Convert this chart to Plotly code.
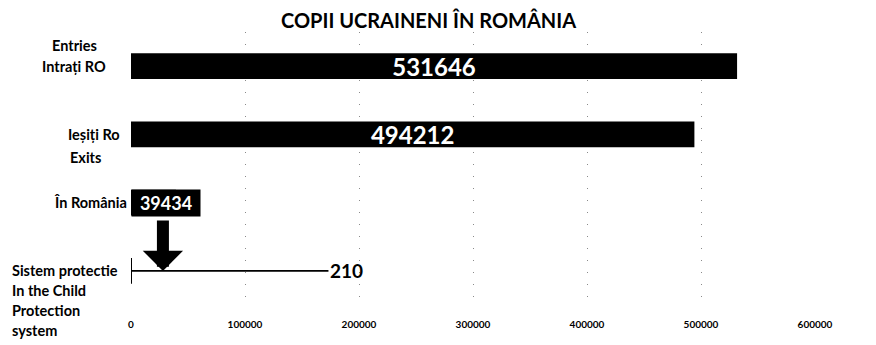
import plotly.graph_objects as go

# Data
categories = ["Intrați RO", "Ieșiți Ro", "În România", "Sistem protectie"]
values = [531646, 494212, 39434, 210]
x_ticks = [0, 100000, 200000, 300000, 400000, 500000, 600000]
title_text = "COPII UCRAINENI ÎN ROMÂNIA"

# Left-hand category captions: (text, category index, left pixel, vertical shift px)
captions = [
    ("Entries", 0, 50, 21),
    ("Intrați RO", 0, 40, 0),
    ("Ieșiți Ro", 1, 66, 0),
    ("Exits", 1, 68, -23),
    ("În România", 2, 52, 0),
    ("Sistem protectie", 3, 10, 0),
    ("In the Child", 3, 10, -20),
    ("Protection", 3, 10, -40),
    ("system", 3, 10, -60),
]

W, H = 876, 345
ML, MR, MT, MB = 131, 61, 32, 40
PW = W - ML - MR
PH = H - MT - MB

FONT = "Lato"

# Values printed inside the two long bars
bar_text = [f"{v}" if v > 100000 else "" for v in values]

fig = go.Figure()
fig.add_trace(go.Bar(
    y=categories,
    x=values,
    orientation="h",
    width=0.38,
    marker=dict(color="#000000", line=dict(width=0)),
    text=bar_text,
    textposition="inside",
    insidetextanchor="middle",
    constraintext="none",
    textangle=0,
    textfont=dict(family=FONT, size=24, color="#ffffff", weight="bold"),
    hoverinfo="skip",
))

annotations = []

# Category captions
for text, ci, px, shift in captions:
    annotations.append(dict(
        text=text, xref="paper", x=(px - ML) / PW, xanchor="left",
        yref="y", y=categories[ci], yshift=shift, yanchor="middle",
        showarrow=False,
        font=dict(family=FONT, size=14.5, color="#000000", weight="bold"),
    ))

# Value box for the short "În România" bar
annotations.append(dict(
    text=f"{values[2]}", x=0, y=categories[2], xref="x", yref="y",
    xanchor="left", yanchor="middle", showarrow=False,
    bgcolor="#000000", borderpad=0, width=68, height=26, align="center",
    font=dict(family=FONT, size=18, color="#ffffff", weight="bold"),
))

# Leader line with the child-protection value
annotations.append(dict(
    text=f"{values[3]}", x=values[3], y=categories[3], xref="x", yref="y",
    ax=189000, ay=categories[3], axref="x", ayref="y",
    showarrow=True, arrowhead=0, arrowwidth=1.6, arrowcolor="#000000",
    font=dict(family=FONT, size=19, color="#000000", weight="bold"),
))

# Thick arrow from the "În România" box down to the protection-system line
annotations.append(dict(
    text="", x=28000, y=categories[3], xref="x", yref="y",
    ax=0, ay=-52, showarrow=True, arrowhead=1, arrowsize=0.56,
    arrowwidth=12, arrowcolor="#000000",
))

# Title, centred at about x=428 px, y=20 px
annotations.append(dict(
    text=title_text, xref="paper", yref="paper",
    x=(428 - ML) / PW, y=(H - MB - 20) / PH,
    xanchor="center", yanchor="middle", showarrow=False,
    font=dict(family=FONT, size=20, color="#000000", weight="bold"),
))

fig.update_layout(
    width=W, height=H,
    margin=dict(l=ML, r=MR, t=MT, b=MB, pad=0, autoexpand=False),
    paper_bgcolor="#ffffff", plot_bgcolor="#ffffff",
    showlegend=False,
    annotations=annotations,
    xaxis=dict(
        range=[0, 600000], tickvals=x_ticks,
        ticktext=[str(t) for t in x_ticks],
        showgrid=True, gridcolor="#8a8a8a", gridwidth=1, griddash="1px,11px",
        zeroline=False, showline=False, ticks="",
        automargin=False, ticklabelstandoff=12,
        tickfont=dict(family=FONT, size=10, color="#000000", weight="bold"),
        fixedrange=True,
    ),
    yaxis=dict(
        categoryorder="array", categoryarray=categories,
        range=[len(categories) - 0.5, -0.5],
        showticklabels=False, showgrid=False,
        zeroline=False, showline=False, ticks="", fixedrange=True,
        automargin=False,
    ),
)

fig.write_html("out.html")
